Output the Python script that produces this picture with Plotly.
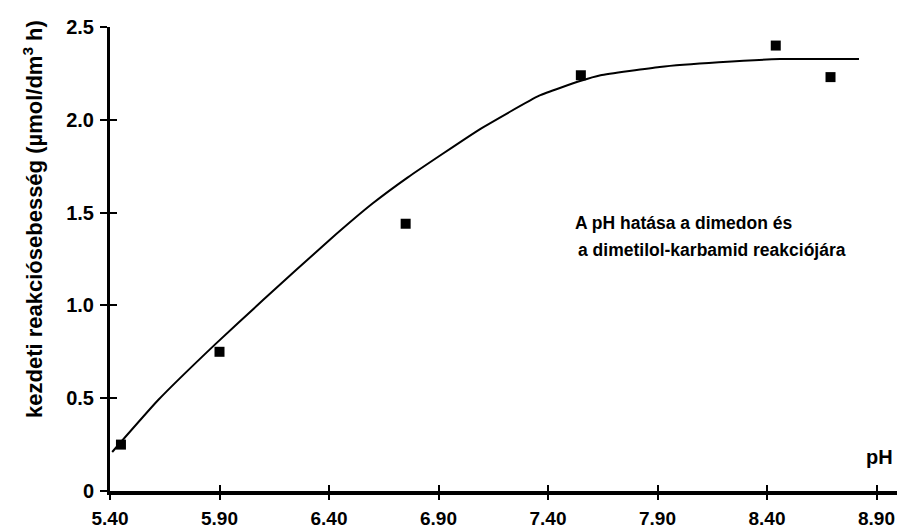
import plotly.graph_objects as go

# measured data points
ph_points = [5.45, 5.90, 6.75, 7.55, 8.44, 8.69]
rate_points = [0.25, 0.75, 1.44, 2.24, 2.40, 2.23]

# fitted curve
ph_curve = [5.41, 5.62, 5.88, 6.10, 6.40, 6.60, 6.76, 7.09, 7.36, 7.55, 7.64, 7.91, 8.18, 8.46, 8.82]
rate_curve = [0.21, 0.49, 0.79, 1.03, 1.35, 1.55, 1.69, 1.95, 2.13, 2.21, 2.24, 2.285, 2.31, 2.327, 2.327]

x_ticks = [5.40, 5.90, 6.40, 6.90, 7.40, 7.90, 8.40, 8.90]
x_ticktext = ["5.40", "5.90", "6.40", "6.90", "7.40", "7.90", "8.40", "8.90"]
y_ticks = [0, 0.5, 1.0, 1.5, 2.0, 2.5]
y_ticktext = ["0", "0.5", "1.0", "1.5", "2.0", "2.5"]

FONT = "Liberation Sans, Arial, sans-serif"

W, H = 898, 529
L, R, T, B = 110, 1, 27, 38
pw = W - L - R
ph = H - T - B
x_range = [5.4, 5.4 + pw / 219.0]
y_range = [0, 2.5]

fig = go.Figure()
fig.add_trace(go.Scatter(x=ph_curve, y=rate_curve, mode="lines",
                         line=dict(color="black", width=2, shape="spline", smoothing=0.4),
                         hoverinfo="skip", showlegend=False))
fig.add_trace(go.Scatter(x=ph_points, y=rate_points, mode="markers",
                         marker=dict(symbol="square", size=10, color="black"),
                         showlegend=False))
# empty trace to activate the overlay axes (inner half of the crossing ticks)
fig.add_trace(go.Scatter(x=[], y=[], xaxis="x2", yaxis="y2", showlegend=False, hoverinfo="skip"))

fig.update_layout(
    width=W, height=H,
    margin=dict(l=L, r=R, t=T, b=B),
    paper_bgcolor="white", plot_bgcolor="white",
    font=dict(family=FONT, color="black"),
    xaxis=dict(range=x_range, tickvals=x_ticks, ticktext=x_ticktext, automargin=False,
               showgrid=False, zeroline=False, showline=True, linecolor="black", linewidth=4,
               ticks="outside", ticklen=5, tickwidth=1.5, tickcolor="black",
               tickfont=dict(family=FONT, size=19, weight="bold", color="black"),
               ticklabelstandoff=2),
    yaxis=dict(range=y_range, tickvals=y_ticks, ticktext=y_ticktext, automargin=False,
               showgrid=False, zeroline=False, showline=True, linecolor="black", linewidth=3,
               ticks="outside", ticklen=7, tickwidth=2, tickcolor="black",
               tickfont=dict(family=FONT, size=20, weight="bold", color="black"),
               ticklabelstandoff=2),
    xaxis2=dict(range=x_range, tickvals=x_ticks, overlaying="x", anchor="y2", side="bottom",
                showgrid=False, zeroline=False, showline=False, showticklabels=False,
                ticks="inside", ticklen=6, tickwidth=1.5, tickcolor="black"),
    yaxis2=dict(range=y_range, tickvals=y_ticks, overlaying="y", anchor="x2", side="left",
                showgrid=False, zeroline=False, showline=False, showticklabels=False,
                ticks="inside", ticklen=7, tickwidth=2, tickcolor="black"),
)

fig.add_annotation(text="kezdeti reakciósebesség (µmol/dm<sup>3</sup> h)",
                   xref="paper", yref="paper", x=(33 - L) / pw, y=(H - B - 219) / ph,
                   textangle=-90, showarrow=False, xanchor="center", yanchor="middle",
                   font=dict(family=FONT, size=22, weight="bold", color="black"))
fig.add_annotation(text="pH", xref="paper", yref="paper", x=(879 - L) / pw, y=(H - B - 457) / ph,
                   showarrow=False, xanchor="center", yanchor="middle",
                   font=dict(family=FONT, size=20, weight="bold", color="black"))
fig.add_annotation(text="A pH hatása a dimedon és", xref="paper", yref="paper",
                   x=(573 - L) / pw, y=(H - B - 223) / ph, showarrow=False,
                   xanchor="left", yanchor="middle",
                   font=dict(family=FONT, size=17.5, weight="bold", color="black"))
fig.add_annotation(text="a dimetilol-karbamid reakciójára", xref="paper", yref="paper",
                   x=(576 - L) / pw, y=(H - B - 250) / ph, showarrow=False,
                   xanchor="left", yanchor="middle",
                   font=dict(family=FONT, size=17.5, weight="bold", color="black"))

fig.write_html("out.html")
